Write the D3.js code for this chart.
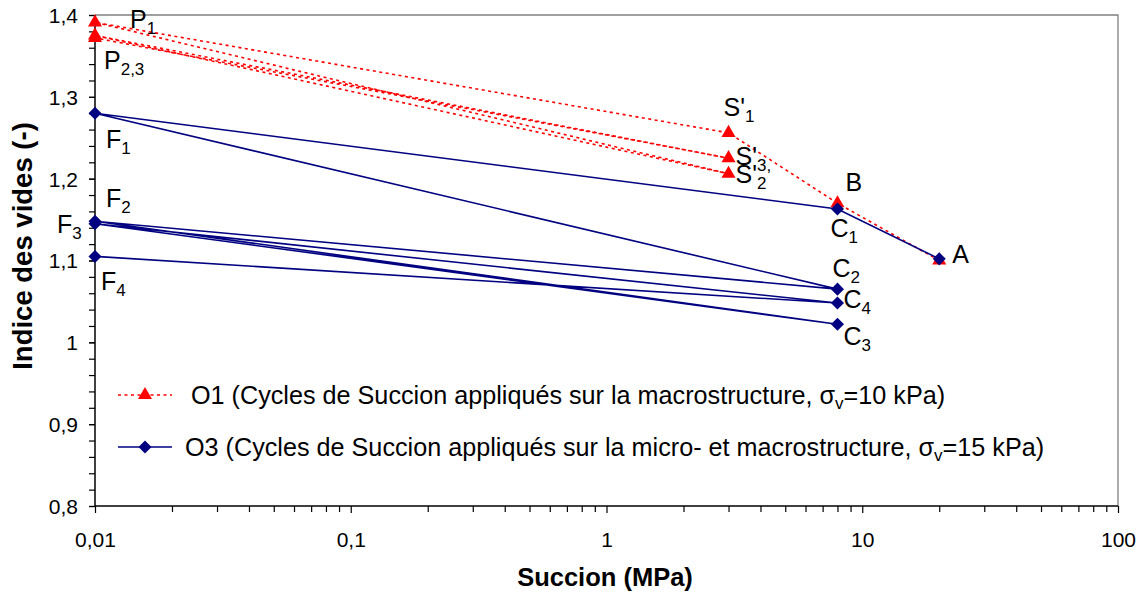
<!DOCTYPE html>
<html><head><meta charset="utf-8">
<script src="https://cdn.jsdelivr.net/npm/d3@7"></script>
<style>
body{margin:0;background:#fff;}
text{font-family:"Liberation Sans",Arial,sans-serif;}
</style></head>
<body><svg id="c" width="1147" height="599"></svg>
<script>
// ---- data ----
const o1Succion = [20, 8, 3, 0.01, 3, 0.01, 3, 0.01];
const o1Indice  = [1.100, 1.170, 1.256, 1.391, 1.206, 1.375, 1.225, 1.372];
const o3Succion = [20, 8, 0.01, 8, 0.01, 8, 0.01, 8, 0.01];
const o3Indice  = [1.102, 1.163, 1.280, 1.065, 1.148, 1.022, 1.145, 1.048, 1.105];
const xTickValues = [0.01, 0.1, 1, 10, 100];
const xTickLabels = ["0,01", "0,1", "1", "10", "100"];
const yTickValues = [0.8, 0.9, 1.0, 1.1, 1.2, 1.3, 1.4];
const yTickLabels = ["0,8", "0,9", "1", "1,1", "1,2", "1,3", "1,4"];
const legendNames = ["O1 (Cycles de Succion appliqués sur la macrostructure, ", "O3 (Cycles de Succion appliqués sur la micro- et macrostructure, "];
const legendStress = ["=10 kPa)", "=15 kPa)"];
// point labels: main text, subscript, data point
const ptLabelText = ["P", "P", "F", "F", "F", "F", "S'", "S'", "S'", "B", "C", "A", "C", "C", "C"];
const ptLabelSub  = ["1", "2,3", "1", "2", "3", "4", "1", "3,", "2", "", "1", "", "2", "4", "3"];
const ptLabelX    = [0.01, 0.01, 0.01, 0.01, 0.01, 0.01, 3, 3, 3, 8, 8, 20, 8, 8, 8];
const ptLabelY    = [1.391, 1.372, 1.280, 1.148, 1.145, 1.105, 1.256, 1.225, 1.206, 1.170, 1.163, 1.102, 1.065, 1.048, 1.022];
// label offsets (px) relative to the point
const ptLabelDx = [35, 9, 11, 11, -38, 6, -5, 7, 7, 8, -7, 13, -5, 6, 6];
const ptLabelDy = [6, 31, 35, -14, 9, 34, -17, 7, 9, -12, 28, 4, -12, 5, 21];

// ---- layout ----
const L = 95, R = 1118, T = 15, B = 506;
const svg = d3.select("#c");
const x = d3.scaleLog().domain([0.01, 100]).range([L, R]);
const y = d3.scaleLinear().domain([0.8, 1.4]).range([B, T]);
const red = "#ff0000", navy = "#000080";

// plot border (top/right grey)
svg.append("path").attr("d", `M${L},${T}H${R}V${B}`).attr("fill", "none").attr("stroke", "#808080").attr("stroke-width", 1.3);

// x axis
const xMinor = [];
for (let e = -2; e < 2; e++) for (let k = 2; k <= 9; k++) xMinor.push(k * Math.pow(10, e));
const xAxisMinor = d3.axisBottom(x).tickValues(xMinor).tickSize(6).tickFormat("");
const xAxis = d3.axisBottom(x).tickValues(xTickValues).tickSize(7).tickFormat((d, i) => xTickLabels[i]);
const gxm = svg.append("g").attr("transform", `translate(0,${B})`).call(xAxisMinor);
gxm.select(".domain").remove();
const gx = svg.append("g").attr("transform", `translate(0,${B})`).call(xAxis);
[gx, gxm].forEach(g => { g.selectAll("line").attr("stroke", "#000").attr("stroke-width", 1.2); });
gx.select(".domain").attr("stroke", "#000").attr("stroke-width", 1.5).attr("d", `M${L},0H${R}`);
gx.selectAll("text").attr("font-size", 21).attr("fill", "#000").attr("dy", 0).attr("y", 41);

// y axis
const yMinor = d3.range(0, 31).map(i => 0.8 + i * 0.02);
const yAxisMinor = d3.axisLeft(y).tickValues(yMinor).tickSize(6).tickFormat("");
const yAxis = d3.axisLeft(y).tickValues(yTickValues).tickSize(6).tickFormat((d, i) => yTickLabels[i]);
const gym = svg.append("g").attr("transform", `translate(${L},0)`).call(yAxisMinor);
gym.select(".domain").remove();
const gy = svg.append("g").attr("transform", `translate(${L},0)`).call(yAxis);
[gy, gym].forEach(g => { g.selectAll("line").attr("stroke", "#000").attr("stroke-width", 1.2); });
gy.select(".domain").attr("stroke", "#000").attr("stroke-width", 1.5).attr("d", `M0,${B}V${T}`);
gy.selectAll("text").attr("font-size", 21).attr("fill", "#000").attr("x", -17).attr("dy", "0.35em");

// axis titles
svg.append("text").attr("x", 605).attr("y", 586).attr("text-anchor", "middle")
  .attr("font-size", 25.5).attr("font-weight", "bold").text("Succion (MPa)");
svg.append("text").attr("transform", `translate(32,246) rotate(-90)`).attr("text-anchor", "middle")
  .attr("font-size", 27.5).attr("font-weight", "bold").text("Indice des vides (-)");

// series
const o1 = o1Succion.map((s, i) => [s, o1Indice[i]]);
const o3 = o3Succion.map((s, i) => [s, o3Indice[i]]);
const line = d3.line().x(d => x(d[0])).y(d => y(d[1]));
const triangle = d3.symbol().type(d3.symbolTriangle).size(85);
const diamond = d3.symbol().type(d3.symbolSquare).size(85);

svg.append("path").datum(o1).attr("d", line).attr("fill", "none").attr("stroke", red)
  .attr("stroke-width", 1.6).attr("stroke-dasharray", "3,3.5");
svg.append("path").datum(o3).attr("d", line).attr("fill", "none").attr("stroke", navy).attr("stroke-width", 1.6);

svg.selectAll(".tri").data(o1).join("path").attr("class", "tri")
  .attr("d", triangle).attr("fill", red)
  .attr("transform", d => `translate(${x(d[0])},${y(d[1])})`);
svg.selectAll(".dia").data(o3).join("path").attr("class", "dia")
  .attr("d", diamond).attr("fill", navy)
  .attr("transform", d => `translate(${x(d[0])},${y(d[1])}) rotate(45)`);

// point labels
ptLabelText.forEach((t, i) => {
  const tx = svg.append("text").attr("x", x(ptLabelX[i]) + ptLabelDx[i]).attr("y", y(ptLabelY[i]) + ptLabelDy[i])
    .attr("font-size", 25).attr("fill", "#000");
  tx.append("tspan").text(t);
  if (ptLabelSub[i]) tx.append("tspan").attr("font-size", 17).attr("dy", 6).text(ptLabelSub[i]);
});

// legend
const legY = [395, 447];
const legTextX = [191, 185];
const legColors = [red, navy];
legY.forEach((ly, i) => {
  const seg = svg.append("line").attr("x1", 118).attr("x2", 172).attr("y1", ly).attr("y2", ly)
    .attr("stroke", legColors[i]).attr("stroke-width", 1.6);
  if (i === 0) seg.attr("stroke-dasharray", "3,3.5");
  svg.append("path").attr("d", i === 0 ? triangle : diamond).attr("fill", legColors[i])
    .attr("transform", i === 0 ? `translate(145,${ly})` : `translate(145,${ly}) rotate(45)`);
  const tx = svg.append("text").attr("x", legTextX[i]).attr("y", ly + 9).attr("font-size", 25.2).attr("fill", "#000");
  tx.append("tspan").text(legendNames[i] + "σ");
  tx.append("tspan").attr("font-size", 17).attr("dy", 5).text("v");
  tx.append("tspan").attr("dy", -5).text(legendStress[i]);
});
</script></body></html>
